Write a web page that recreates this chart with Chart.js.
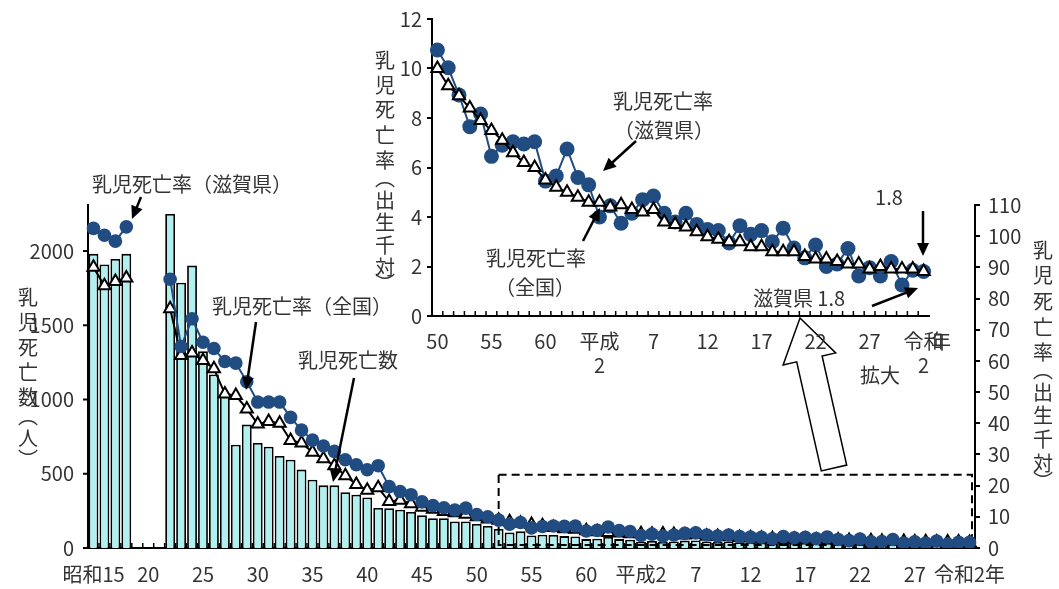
<!DOCTYPE html>
<html><head><meta charset="utf-8">
<script src="https://cdn.jsdelivr.net/npm/chart.js@4/dist/chart.umd.min.js"></script>
<style>
html,body{margin:0;padding:0;background:#fff;}
#wrap{position:relative;width:1059px;height:589px;overflow:hidden;background:#fff;}
canvas{position:absolute;left:0;top:0;}
</style></head><body>
<div id="wrap">
<canvas id="main" width="1059" height="589" style="width:1059px;height:589px"></canvas>
<canvas id="inset" width="1059" height="390" style="width:1059px;height:390px"></canvas>
</div>
<script>
// ---------- DATA ----------
const years = [1940,1941,1942,1943,1944,1945,1946,1947,1948,1949,
  1950,1951,1952,1953,1954,1955,1956,1957,1958,1959,
  1960,1961,1962,1963,1964,1965,1966,1967,1968,1969,
  1970,1971,1972,1973,1974,1975,1976,1977,1978,1979,
  1980,1981,1982,1983,1984,1985,1986,1987,1988,1989,
  1990,1991,1992,1993,1994,1995,1996,1997,1998,1999,
  2000,2001,2002,2003,2004,2005,2006,2007,2008,2009,
  2010,2011,2012,2013,2014,2015,2016,2017,2018,2019,2020];

// 乳児死亡数（滋賀県, 人）
const deaths = [1981,1909,1947,1981,null,null,null,2250,1786,1902,
  1325,1168,1022,696,831,707,682,620,595,528,
  460,422,422,375,359,340,270,268,258,243,
  220,200,200,178,178,162,148,128,105,112,
  85,90,88,80,78,60,62,74,60,56,
  42,47,40,44,50,51,44,40,44,39,
  37,36,31,38,34,34,30,36,28,24,
  29,20,21,27,16,19,16,21,12,17,16];

// 乳児死亡率（滋賀県, 出生千対）
const shigaRate = [102.5,100.3,98.4,103.0,null,null,null,86.2,64.6,73.5,
  66.0,64.0,59.8,59.3,53.3,46.8,46.8,46.8,41.9,37.8,
  34.6,32.7,31.0,28.3,26.7,25.1,26.4,19.7,18.1,17.1,
  14.8,13.6,12.9,12.2,12.8,10.75,10.03,8.93,7.65,8.16,
  6.45,6.9,7.04,6.95,7.04,5.45,5.66,6.75,5.6,5.3,
  4.0,4.45,3.75,4.15,4.7,4.85,4.15,3.8,4.15,3.7,
  3.5,3.45,2.95,3.65,3.3,3.45,3.0,3.55,2.75,2.35,
  2.87,2.0,2.1,2.73,1.62,1.95,1.62,2.2,1.25,1.85,1.8];

// 乳児死亡率（全国, 出生千対）
const nationalRate = [90.0,84.1,85.5,86.6,null,null,null,76.7,61.7,62.5,
  60.1,57.5,49.4,48.9,44.6,39.8,40.6,40.0,34.5,33.7,
  30.7,28.6,26.4,23.2,20.4,18.5,19.3,14.9,15.3,14.2,
  13.1,12.4,11.7,11.3,10.8,10.0,9.3,8.9,8.4,7.9,
  7.5,7.1,6.6,6.2,6.0,5.5,5.2,5.0,4.8,4.6,
  4.6,4.4,4.5,4.3,4.2,4.3,3.8,3.7,3.6,3.4,
  3.2,3.1,3.0,3.0,2.8,2.8,2.6,2.6,2.6,2.4,
  2.3,2.3,2.2,2.1,2.1,1.9,2.0,1.9,1.9,1.9,1.8];

const mainTickYears = [1940,1945,1950,1955,1960,1965,1970,1975,1980,1985,1990,1995,2000,2005,2010,2015,2020];
const mainTickText  = ['昭和15','20','25','30','35','40','45','50','55','60','平成2','7','12','17','22','27','令和2年'];
const leftTickValues = [0,500,1000,1500,2000];

const insetStartYear = 1975;
const insetTickYears = [1975,1980,1985,1990,1995,2000,2005,2010,2015,2020];
const insetTickText  = [['50'],['55'],['60'],['平成','2'],['7'],['12'],['17'],['22'],['27'],['令和','2']];

const leftMax = 2310;
const rightMax = 110, rightStep = 10;
const insetMax = 12, insetStep = 2;
const zoomBoxTop = 23.5;      // right-axis value of dashed box top
const zoomBoxStartYear = 1977;

// ---------- STYLE ----------
const FONT = '"Noto Sans CJK JP","Noto Sans",sans-serif';
const TXT = '#333333';
const BLUE = '#214c82';
const BARFILL = '#b2f0f0';

function arrow(ctx,x1,y1,x2,y2,w,hl,hw){
  w=w||2.5; hl=hl||13; hw=hw||6;
  const a=Math.atan2(y2-y1,x2-x1), c=Math.cos(a), s=Math.sin(a);
  ctx.save(); ctx.strokeStyle='#000'; ctx.fillStyle='#000'; ctx.lineWidth=w;
  ctx.beginPath(); ctx.moveTo(x1,y1); ctx.lineTo(x2-c*hl*0.8,y2-s*hl*0.8); ctx.stroke();
  ctx.beginPath(); ctx.moveTo(x2,y2);
  ctx.lineTo(x2-hl*c+hw*s,y2-hl*s-hw*c);
  ctx.lineTo(x2-hl*c-hw*s,y2-hl*s+hw*c);
  ctx.closePath(); ctx.fill(); ctx.restore();
}
function text(ctx,str,x,y,size,align){
  ctx.save(); ctx.font=(size||20)+'px '+FONT; ctx.fillStyle=TXT;
  ctx.textAlign=align||'center'; ctx.textBaseline='middle'; ctx.fillText(str,x,y); ctx.restore();
}
function vtext(ctx,chars,x,ys,size){
  ctx.save(); ctx.font=(size||20)+'px '+FONT; ctx.fillStyle=TXT;
  ctx.textAlign='center'; ctx.textBaseline='middle';
  chars.forEach((ch,i)=>ctx.fillText(ch,x,ys[i])); ctx.restore();
}
function innerTicks(chart,len){
  const ctx=chart.ctx, xs=chart.scales.x, b=chart.chartArea.bottom;
  ctx.save(); ctx.strokeStyle='#000'; ctx.lineWidth=1.5;
  const n=chart.data.labels.length;
  for(let i=1;i<n;i++){
    const px=(xs.getPixelForValue(i-1)+xs.getPixelForValue(i))/2;
    ctx.beginPath(); ctx.moveTo(px,b); ctx.lineTo(px,b-len); ctx.stroke();
  }
  ctx.restore();
}

// ---------- MAIN CHART ----------
const mainDecor = {
  id:'mainDecor',
  beforeDatasetsDraw(chart){ innerTicks(chart,5); },
  afterDatasetDraw(chart,args){
    if(args.meta.type!=='bar') return;
    const ctx=chart.ctx, xs=chart.scales.x, yr=chart.scales.yR;
    const x0=xs.getPixelForValue(years.indexOf(zoomBoxStartYear));
    const x1=chart.chartArea.right-3;
    const y0=yr.getPixelForValue(zoomBoxTop), y1=chart.chartArea.bottom-3;
    ctx.save(); ctx.strokeStyle='#000'; ctx.lineWidth=2; ctx.setLineDash([8,5]);
    ctx.strokeRect(x0,y0,x1-x0,y1-y0); ctx.restore();
  },
  afterDraw(chart){
    const ctx=chart.ctx;
    // left axis labels and tick marks
    const yl=chart.scales.yL, ax=chart.chartArea.left;
    ctx.save(); ctx.strokeStyle='#000'; ctx.lineWidth=2;
    leftTickValues.forEach(v=>{
      const py=yl.getPixelForValue(v);
      ctx.beginPath(); ctx.moveTo(ax-5,py); ctx.lineTo(ax,py); ctx.stroke();
      text(ctx,String(v),ax-14,py,20,'right');
    });
    ctx.restore();
    text(ctx,'乳児死亡率（滋賀県）',192,184);
    arrow(ctx,141,197,132,219);
    text(ctx,'乳児死亡率（全国）',302,306);
    arrow(ctx,256,322,246,390);
    text(ctx,'乳児死亡数',348,360);
    arrow(ctx,354,378,333,482);
    // hollow "拡大" arrow
    const P=[[800,318],[835.7,352.9],[822.1,356],[846.7,465.1],[821.3,470.9],[796.7,361.8],[783.1,364.9]];
    ctx.save(); ctx.beginPath(); ctx.moveTo(P[0][0],P[0][1]);
    for(let i=1;i<P.length;i++) ctx.lineTo(P[i][0],P[i][1]);
    ctx.closePath(); ctx.fillStyle='#fff'; ctx.fill(); ctx.strokeStyle='#000'; ctx.lineWidth=1.5; ctx.stroke(); ctx.restore();
    text(ctx,'拡大',880,375);
    vtext(ctx,['乳','児','死','亡','数','︵','人','︶'],28,[297,322,347,372,397,416,438,459]);
    vtext(ctx,['乳','児','死','亡','率','︵','出','生','千','対','︶'],1043,[250,275,301,327,352,370,392,415,439,463,481]);
  }
};

new Chart(document.getElementById('main'),{
  data:{
    labels:years,
    datasets:[
      {type:'line',data:shigaRate,yAxisID:'yR',borderColor:BLUE,backgroundColor:BLUE,borderWidth:2,
        pointStyle:'circle',pointRadius:6.8,pointBorderWidth:0,pointBackgroundColor:BLUE,order:1,spanGaps:false},
      {type:'line',data:nationalRate,yAxisID:'yR',borderColor:'#000',backgroundColor:'#fff',borderWidth:2,
        pointStyle:'triangle',pointRadius:7,pointBorderWidth:2,pointBackgroundColor:'#fff',pointBorderColor:'#000',order:2,spanGaps:false},
      {type:'bar',data:deaths,yAxisID:'yL',backgroundColor:BARFILL,borderColor:'#000',borderWidth:1.8,
        barPercentage:0.9,categoryPercentage:1,order:3}
    ]
  },
  options:{
    responsive:false,animation:false,devicePixelRatio:1,
    layout:{padding:{left:0,right:0,top:205,bottom:0}},
    plugins:{legend:{display:false},tooltip:{enabled:false}},
    scales:{
      x:{offset:true,grid:{display:false,drawTicks:false},border:{display:true,color:'#000',width:2},
        ticks:{autoSkip:false,maxRotation:0,minRotation:0,padding:14,color:TXT,font:{family:FONT,size:20},
          callback:function(v,i){const k=mainTickYears.indexOf(years[i]);return k>=0?mainTickText[k]:'';}},
        afterFit:s=>{s.height=41;}},
      yL:{type:'linear',position:'left',min:0,max:leftMax,
        ticks:{display:false},
        grid:{display:false,drawTicks:false},
        border:{display:true,color:'#000',width:2},
        afterFit:s=>{s.width=88;}},
      yR:{type:'linear',position:'right',min:0,max:rightMax,
        ticks:{stepSize:rightStep,autoSkip:false,padding:8,color:TXT,font:{family:FONT,size:20}},
        grid:{drawOnChartArea:false,drawTicks:true,tickLength:5,color:'#000',lineWidth:2},
        border:{display:true,color:'#000',width:2},
        afterFit:s=>{s.width=84;}}
    }
  },
  plugins:[mainDecor]
});

// ---------- INSET CHART ----------
const i0 = years.indexOf(insetStartYear);
const insetYears = years.slice(i0);
const insetDecor = {
  id:'insetDecor',
  beforeDatasetsDraw(chart){ innerTicks(chart,5); },
  afterDraw(chart){
    const ctx=chart.ctx;
    text(ctx,'乳児死亡率',663,101);
    text(ctx,'（滋賀県）',664,130);
    arrow(ctx,636,141,603,171);
    text(ctx,'乳児死亡率',536,258);
    text(ctx,'（全国）',535,287);
    arrow(ctx,583,241,600,208);
    text(ctx,'1.8',889,197);
    arrow(ctx,923,211,923,256);
    text(ctx,'滋賀県 1.8',799,298);
    arrow(ctx,872,306,918,288);
    text(ctx,'年',941,341);
    vtext(ctx,['乳','児','死','亡','率','︵','出','生','千','対','︶'],385,[60,85,109,135,160,178,200,222,245,267,283]);
  }
};

new Chart(document.getElementById('inset'),{
  data:{
    labels:insetYears,
    datasets:[
      {type:'line',data:shigaRate.slice(i0),borderColor:BLUE,backgroundColor:BLUE,borderWidth:2,
        pointStyle:'circle',pointRadius:7.5,pointBorderWidth:0,pointBackgroundColor:BLUE,order:2},
      {type:'line',data:nationalRate.slice(i0),borderColor:'#000',backgroundColor:'#fff',borderWidth:2,
        pointStyle:'triangle',pointRadius:7,pointBorderWidth:2,pointBackgroundColor:'#fff',pointBorderColor:'#000',order:1}
    ]
  },
  options:{
    responsive:false,animation:false,devicePixelRatio:1,
    layout:{padding:{left:340,right:130,top:19,bottom:0}},
    plugins:{legend:{display:false},tooltip:{enabled:false}},
    scales:{
      x:{offset:true,grid:{display:false,drawTicks:false},border:{display:true,color:'#000',width:2},
        ticks:{autoSkip:false,maxRotation:0,minRotation:0,padding:13,color:TXT,font:{family:FONT,size:20},
          callback:function(v,i){const k=insetTickYears.indexOf(insetYears[i]);return k>=0?insetTickText[k]:'';}},
        afterFit:s=>{s.height=74;}},
      y:{position:'left',min:0,max:insetMax,
        ticks:{stepSize:insetStep,autoSkip:false,padding:5,color:TXT,font:{family:FONT,size:20}},
        grid:{drawOnChartArea:false,drawTicks:true,tickLength:5,color:'#000',lineWidth:2},
        border:{display:true,color:'#000',width:2},
        afterFit:s=>{s.width=92;}}
    }
  },
  plugins:[insetDecor]
});
</script>
</body></html>
